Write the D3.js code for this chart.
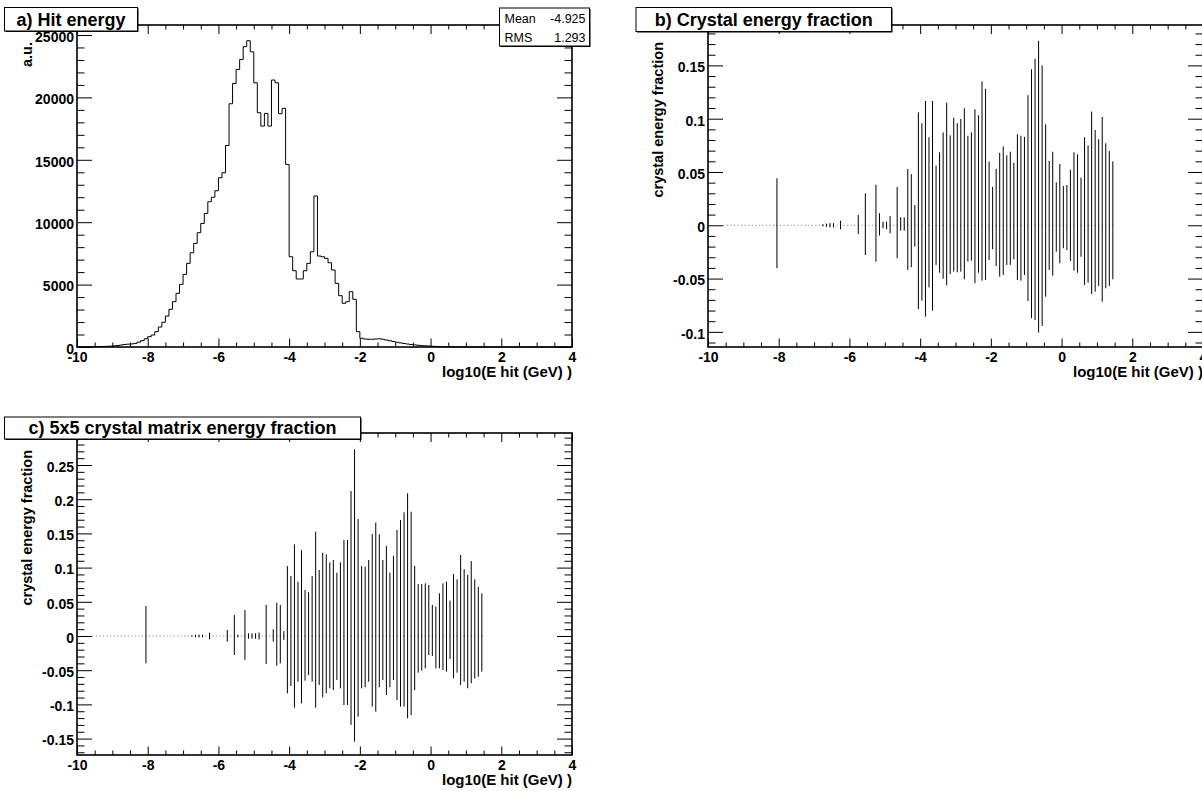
<!DOCTYPE html>
<html>
<head>
<meta charset="utf-8">
<script src="https://cdn.jsdelivr.net/npm/d3@7"></script>
<style>
  html, body { margin: 0; padding: 0; background: #fff; }
  svg { display: block; }
  text { font-family: "Liberation Sans", Arial, Helvetica, sans-serif; }
</style>
</head>
<body>
<svg id="chart" width="1202" height="791"></svg>
<script>
// ---------------- data ----------------
// a) hit energy histogram: 140 bins of 0.1 in log10(E hit / GeV), from -10 to 4
const hitLow = -10;
const hitBinWidth = 0.1;
const hitCounts = [
  5, 8, 10, 15, 20, 25, 35, 45, 55, 70,                               // -10.0 .. -9.1
  90, 120, 160, 200, 230, 250, 290, 390, 510, 660,                    // -9.0 .. -8.1
  830, 960, 1230, 1600, 1980, 2480, 3020, 3630, 4300, 5020,           // -8.0 .. -7.1
  5820, 6700, 7550, 8300, 9160, 9900, 10700, 11640, 12000, 12520,     // -7.0 .. -6.1
  13560, 13960, 16150, 19490, 21120, 22240, 23040, 24060, 24540, 23650, // -6.0 .. -5.1
  21170, 18770, 17700, 18720, 17700, 21390, 21170, 18690, 19120, 14630, // -5.0 .. -4.1
  7230, 6110, 5450, 5450, 6110, 6700, 7630, 12100, 7290, 7230,        // -4.0 .. -3.1
  7100, 6750, 6170, 5100, 4110, 3500, 3630, 4430, 3820, 1230,         // -3.0 .. -2.1
  700, 640, 620, 620, 640, 660, 620, 560, 500, 440,                   // -2.0 .. -1.1
  380, 330, 280, 240, 200, 170, 140, 115, 95, 80,                     // -1.0 .. -0.1
  60, 45, 35, 25, 18, 12, 8, 5, 3, 2,                                 //  0.0 ..  0.9
  0, 0, 0, 0, 0, 0, 0, 0, 0, 0,
  0, 0, 0, 0, 0, 0, 0, 0, 0, 0,
  0, 0, 0, 0, 0, 0, 0, 0, 0, 0
];
const hitStats = [["Mean", "-4.925"], ["RMS", "1.293"]];

// b), c) energy-fraction profiles: 111 bins of 0.1 from -9.6 to 1.5,
// each bin drawn as a vertical bar from its lower to its upper value
const fracLow = -9.6;
const fracBinWidth = 0.1;
const crystalHi = [
  0, 0, 0, 0, 0, 0, 0, 0, 0, 0,
  0, 0, 0, 0, 0, 0.0441, 0, 0, 0, 0,
  0, 0, 0, 0, 0, 0, 0, 0, 0.001, 0.0015,
  0.002, 0.002, 0, 0.0043, 0, 0, 0, 0, 0.0097, 0,
  0.030, 0, 0, 0.038, 0.0113, 0.0034, 0.0034, 0.0087, 0, 0.036,
  0.0075, 0.0075, 0.0528, 0.048, 0.019, 0.106, 0.0957, 0.1166, 0.0826, 0.1166,
  0.056, 0.0685, 0.0872, 0.115, 0.0844, 0.101, 0.0957, 0.0997, 0.1098, 0.084,
  0.0872, 0.1088, 0.1032, 0.135, 0.128, 0.0597, 0.036, 0.053, 0.068, 0.074,
  0.0657, 0.069, 0.0587, 0.0854, 0.084, 0.083, 0.122, 0.1463, 0.1563, 0.173,
  0.150, 0.0947, 0.0603, 0.069, 0.0403, 0.0575, 0.0369, 0.0378, 0.0519, 0.0685,
  0.0666, 0.0447, 0.0826, 0.075, 0.1066, 0.0894, 0.0807, 0.1016, 0.0769, 0.0697,
  0.060
];
const crystalLo = [
  0, 0, 0, 0, 0, 0, 0, 0, 0, 0,
  0, 0, 0, 0, 0, -0.0403, 0, 0, 0, 0,
  0, 0, 0, 0, 0, 0, 0, 0, -0.001, -0.0015,
  -0.002, -0.002, 0, -0.0038, 0, 0, 0, 0, -0.0081, 0,
  -0.0279, 0, 0, -0.0342, -0.0097, -0.0028, -0.0037, -0.0075, 0, -0.031,
  -0.005, -0.005, -0.0419, -0.0394, -0.020, -0.0788, -0.0707, -0.0857, -0.0582, -0.0801,
  -0.0372, -0.0445, -0.0501, -0.0563, -0.0457, -0.0435, -0.0441, -0.0435, -0.0507, -0.0341,
  -0.0332, -0.0544, -0.0445, -0.052, -0.0513, -0.0326, -0.0225, -0.0382, -0.0482, -0.0466,
  -0.0372, -0.0372, -0.0319, -0.0513, -0.052, -0.0466, -0.071, -0.0872, -0.0888, -0.1007,
  -0.0945, -0.067, -0.0419, -0.0473, -0.0248, -0.0357, -0.0216, -0.0232, -0.0335, -0.0426,
  -0.0445, -0.0295, -0.056, -0.0538, -0.0644, -0.0623, -0.0569, -0.0717, -0.0591, -0.0569,
  -0.0507
];
const matrixHi = [
  0, 0, 0, 0, 0, 0, 0, 0, 0, 0,
  0, 0, 0, 0, 0, 0.0439, 0, 0, 0, 0,
  0, 0, 0, 0, 0, 0, 0, 0, 0.001, 0.002,
  0.002, 0.002, 0, 0.0049, 0, 0, 0, 0, 0.0088, 0,
  0.0307, 0.002, 0, 0.038, 0.004, 0.004, 0.004, 0.005, 0, 0.0453,
  0, 0.0098, 0.0487, 0.0453, 0.007, 0.1023, 0.0877, 0.134, 0.0794, 0.1253,
  0.0673, 0.064, 0.0877, 0.1525, 0.0965, 0.1218, 0.1194, 0.1077, 0.1111, 0.0926,
  0.1077, 0.1404, 0.1404, 0.212, 0.273, 0.171, 0.1023, 0.1014, 0.1111, 0.149,
  0.1657, 0.1487, 0.1111, 0.1316, 0.0926, 0.1175, 0.155, 0.1696, 0.1808, 0.2086,
  0.1817, 0.1023, 0.076, 0.076, 0.077, 0.0746, 0.0453, 0.043, 0.0624, 0.077,
  0.0794, 0.0517, 0.0906, 0.0828, 0.1184, 0.0975, 0.0892, 0.1096, 0.0828, 0.072,
  0.0624
];
const matrixLo = [
  0, 0, 0, 0, 0, 0, 0, 0, 0, 0,
  0, 0, 0, 0, 0, -0.040, 0, 0, 0, 0,
  0, 0, 0, 0, 0, 0, 0, 0, -0.001, -0.002,
  -0.002, -0.002, 0, -0.0049, 0, 0, 0, 0, -0.0083, 0,
  -0.0278, -0.002, 0, -0.035, -0.004, -0.004, -0.004, -0.005, 0, -0.0409,
  0, -0.0083, -0.0434, -0.040, -0.006, -0.0838, -0.0731, -0.1048, -0.0668, -0.0984,
  -0.0653, -0.057, -0.0668, -0.1048, -0.0716, -0.0897, -0.0838, -0.0765, -0.079, -0.0643,
  -0.0765, -0.1009, -0.1009, -0.130, -0.1545, -0.118, -0.0765, -0.075, -0.0668, -0.1033,
  -0.1106, -0.075, -0.0643, -0.0863, -0.075, -0.0643, -0.0936, -0.1033, -0.1033, -0.1203,
  -0.1155, -0.079, -0.0536, -0.0507, -0.0473, -0.0278, -0.0292, -0.0473, -0.0473, -0.0497,
  -0.0521, -0.0336, -0.0619, -0.0536, -0.0716, -0.0668, -0.0765, -0.0692, -0.0619, -0.0595,
  -0.0521
];

// tick labels
const xTicks = [-10, -8, -6, -4, -2, 0, 2, 4];
const hitYTicks = [0, 5000, 10000, 15000, 20000, 25000];
const crystalYTicks = [-0.1, -0.05, 0, 0.05, 0.1, 0.15];
const matrixYTicks = [-0.15, -0.1, -0.05, 0, 0.05, 0.1, 0.15, 0.2, 0.25];

// ---------------- layout ----------------
const FONT = '"Liberation Sans", Arial, Helvetica, sans-serif';
const svg = d3.select("#chart");

const panels = {
  a: { left: 77,  right: 572,  top: 25,  bottom: 347, yDomain: [0, 25800] },
  b: { left: 708, right: 1203, top: 25,  bottom: 347, yDomain: [-0.1142, 0.1879] },
  c: { left: 77,  right: 572,  top: 433, bottom: 755, yDomain: [-0.174, 0.2968] }
};

function scalesFor(p) {
  const x = d3.scaleLinear().domain([-10, 4]).range([p.left, p.right]);
  const y = d3.scaleLinear().domain(p.yDomain).range([p.bottom, p.top]);
  return { x, y };
}

const fracFmt = d => String(+d.toFixed(2));

function styleAxis(sel, withLabels) {
  sel.select(".domain").remove();
  sel.attr("font-family", FONT).attr("font-size", 14).attr("font-weight", "bold");
  sel.selectAll(".tick line").attr("stroke", "#000").attr("stroke-width", 1);
  if (withLabels) sel.selectAll(".tick text").attr("fill", "#000");
}

function drawAxes(p, x, y, yMajor, yMinor, yFmt) {
  const g = svg.append("g");
  const xMinor = d3.range(-20, 9).map(k => k / 2).filter(v => !xTicks.includes(v));

  // bottom axis: ticks pointing up into the frame
  g.append("g").attr("transform", `translate(0,${p.bottom})`)
    .call(d3.axisBottom(x).tickValues(xMinor).tickSize(-4.5).tickFormat(""))
    .call(s => styleAxis(s, false));
  g.append("g").attr("transform", `translate(0,${p.bottom})`)
    .call(d3.axisBottom(x).tickValues(xTicks).tickSize(-8.5).tickPadding(5).tickFormat(d => String(d)))
    .call(s => styleAxis(s, true));

  // top axis: ticks pointing down
  g.append("g").attr("transform", `translate(0,${p.top})`)
    .call(d3.axisTop(x).tickValues(xMinor).tickSize(-4.5).tickFormat(""))
    .call(s => styleAxis(s, false));
  g.append("g").attr("transform", `translate(0,${p.top})`)
    .call(d3.axisTop(x).tickValues(xTicks).tickSize(-9).tickFormat(""))
    .call(s => styleAxis(s, false));

  // left axis (labels sit slightly below their tick)
  g.append("g").attr("transform", `translate(${p.left},0)`)
    .call(d3.axisLeft(y).tickValues(yMinor).tickSize(-7.5).tickFormat(""))
    .call(s => styleAxis(s, false));
  g.append("g").attr("transform", `translate(${p.left},0)`)
    .call(d3.axisLeft(y).tickValues(yMajor).tickSize(-15).tickPadding(3).tickFormat(yFmt))
    .call(s => styleAxis(s, true))
    .call(s => s.selectAll(".tick text").attr("dy", "0.45em"));

  // right axis
  g.append("g").attr("transform", `translate(${p.right},0)`)
    .call(d3.axisRight(y).tickValues(yMinor).tickSize(-7.5).tickFormat(""))
    .call(s => styleAxis(s, false));
  g.append("g").attr("transform", `translate(${p.right},0)`)
    .call(d3.axisRight(y).tickValues(yMajor).tickSize(-15).tickFormat(""))
    .call(s => styleAxis(s, false));

  // frame
  g.append("rect")
    .attr("x", p.left).attr("y", p.top)
    .attr("width", p.right - p.left).attr("height", p.bottom - p.top)
    .attr("fill", "none").attr("stroke", "#000").attr("stroke-width", 1.6);
}

function axisTitles(p, yTitle) {
  svg.append("text")
    .attr("x", p.right).attr("y", p.bottom + 30)
    .attr("text-anchor", "end")
    .attr("font-family", FONT).attr("font-size", 15).attr("font-weight", "bold")
    .text("log10(E hit (GeV) )");
  svg.append("text")
    .attr("transform", `translate(${p.left - 45.5},${p.top + 17}) rotate(-90)`)
    .attr("text-anchor", "end")
    .attr("font-family", FONT).attr("font-size", 14.5).attr("font-weight", "bold")
    .text(yTitle);
}

function titleBox(text, bx, by, bw, bh) {
  const g = svg.append("g");
  g.append("rect").attr("x", bx + 1).attr("y", by + 1).attr("width", bw).attr("height", bh).attr("fill", "#000");
  g.append("rect").attr("x", bx).attr("y", by).attr("width", bw).attr("height", bh)
    .attr("fill", "#fff").attr("stroke", "#000").attr("stroke-width", 1);
  g.append("text")
    .attr("x", bx + bw / 2).attr("y", by + bh / 2 + 6.3)
    .attr("text-anchor", "middle")
    .attr("font-family", FONT).attr("font-size", 18).attr("font-weight", "bold")
    .text(text);
}

// ---------------- a) Hit energy ----------------
{
  const p = panels.a;
  const { x, y } = scalesFor(p);
  const hitYMinor = d3.range(0, 26).map(k => k * 1000).filter(v => v % 5000 !== 0);

  const pts = hitCounts.map((c, i) => [hitLow + i * hitBinWidth, c]);
  pts.push([hitLow + hitCounts.length * hitBinWidth, hitCounts[hitCounts.length - 1]]);
  const line = d3.line().x(d => x(d[0])).y(d => y(d[1])).curve(d3.curveStepAfter);
  svg.append("path").datum(pts)
    .attr("d", line).attr("fill", "none").attr("stroke", "#000").attr("stroke-width", 1);

  drawAxes(p, x, y, hitYTicks, hitYMinor, d => String(d));
  axisTitles(p, "a.u.");

  // statistics box
  const sx = 499.5, sy = 8, sw = 90, sh = 38;
  svg.append("rect").attr("x", sx + 1).attr("y", sy + 1).attr("width", sw).attr("height", sh).attr("fill", "#000");
  svg.append("rect").attr("x", sx).attr("y", sy).attr("width", sw).attr("height", sh)
    .attr("fill", "#fff").attr("stroke", "#000").attr("stroke-width", 1);
  hitStats.forEach((row, i) => {
    const ty = sy + 14.7 + i * 19;
    svg.append("text").attr("x", sx + 5).attr("y", ty)
      .attr("font-family", FONT).attr("font-size", 12.5).text(row[0]);
    svg.append("text").attr("x", sx + sw - 4).attr("y", ty).attr("text-anchor", "end")
      .attr("font-family", FONT).attr("font-size", 12.5).text(row[1]);
  });

  titleBox("a) Hit energy", 4.5, 7.5, 133, 23.5);
}

// ---------------- b), c) energy fraction profiles ----------------
function drawProfile(p, hi, lo, yMajor, yTitle, title, box) {
  const { x, y } = scalesFor(p);
  const minorLo = Math.ceil(p.yDomain[0] * 100), minorHi = Math.floor(p.yDomain[1] * 100);
  const yMinor = d3.range(minorLo, minorHi + 1).filter(k => k % 5 !== 0).map(k => k / 100);

  const bins = hi.map((h, i) => ({
    c: fracLow + (i + 0.5) * fracBinWidth,
    hi: h,
    lo: lo[i]
  }));

  const g = svg.append("g");
  // dotted zero markers at every bin centre
  g.selectAll("rect.dot").data(bins).join("rect")
    .attr("class", "dot")
    .attr("x", d => x(d.c) - 0.5).attr("y", y(0) - 0.5)
    .attr("width", 1).attr("height", 1).attr("fill", "#777");
  // error bars
  g.selectAll("line.bar").data(bins.filter(d => d.hi !== d.lo)).join("line")
    .attr("class", "bar")
    .attr("x1", d => x(d.c)).attr("x2", d => x(d.c))
    .attr("y1", d => y(d.hi)).attr("y2", d => y(d.lo))
    .attr("stroke", "#000").attr("stroke-width", 1);

  drawAxes(p, x, y, yMajor, yMinor, fracFmt);
  axisTitles(p, yTitle);
  titleBox(title, box[0], box[1], box[2], box[3]);
}

drawProfile(panels.b, crystalHi, crystalLo, crystalYTicks,
  "crystal energy fraction", "b) Crystal energy fraction", [636, 7.5, 255.5, 24]);
drawProfile(panels.c, matrixHi, matrixLo, matrixYTicks,
  "crystal energy fraction", "c) 5x5 crystal matrix energy fraction", [4.5, 417, 356, 22]);
</script>
</body>
</html>
